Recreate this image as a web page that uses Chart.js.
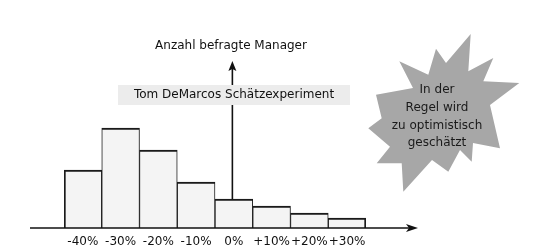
<!DOCTYPE html>
<html><head><meta charset="utf-8">
<script src="https://cdn.jsdelivr.net/npm/chart.js@4"></script>
<style>html,body{margin:0;padding:0;background:#fff;}canvas{display:block;}</style>
</head><body>
<canvas id="c" width="540" height="252"></canvas>
<script>
const categories = ['-40%','-30%','-20%','-10%','0%','+10%','+20%','+30%'];
const managers = [58, 100, 78, 46, 29, 22, 15, 10];
const yAxisTitle = 'Anzahl befragte Manager';
const experimentLabel = 'Tom DeMarcos Schätzexperiment';
const starLines = ['In der','Regel wird','zu optimistisch','geschätzt'];
const FONT = '"DejaVu Sans", Verdana, sans-serif';

const deco = {
  id: 'deco',
  afterDraw(chart) {
    const ctx = chart.ctx;
    const xs = chart.scales.x, ys = chart.scales.y;
    const base = ys.getPixelForValue(0);
    ctx.save();
    // x axis with arrow
    ctx.strokeStyle = '#111'; ctx.fillStyle = '#111';
    ctx.lineWidth = 1.6;
    ctx.beginPath(); ctx.moveTo(30, base); ctx.lineTo(412, base); ctx.stroke();
    ctx.beginPath(); ctx.moveTo(418, base); ctx.lineTo(406, base - 4); ctx.lineTo(409, base); ctx.lineTo(406, base + 4); ctx.closePath(); ctx.fill();
    // vertical line & arrow
    const vx = xs.getPixelForValue(4) - 1.5;
    const topBar = ys.getPixelForValue(managers[4]);
    ctx.lineWidth = 1.6;
    ctx.beginPath(); ctx.moveTo(vx, 105); ctx.lineTo(vx, topBar); ctx.stroke();
    ctx.beginPath(); ctx.moveTo(vx, 85); ctx.lineTo(vx, 68); ctx.stroke();
    ctx.beginPath(); ctx.moveTo(vx, 61); ctx.lineTo(vx - 4, 71); ctx.lineTo(vx, 69); ctx.lineTo(vx + 4, 71); ctx.closePath(); ctx.fill();
    // label box
    ctx.fillStyle = '#ececec';
    ctx.fillRect(118, 85, 232, 20);
    ctx.fillStyle = '#111';
    ctx.font = '12px ' + FONT;
    ctx.textAlign = 'center'; ctx.textBaseline = 'middle';
    ctx.fillText(experimentLabel, 234, 95);
    ctx.fillText(yAxisTitle, 231, 46);
    // star
    const pts = [[470.7,34],[468.3,71.3],[493.3,58],[483.3,81.3],[519.3,83],[490,105],[500,148.3],[473,143],[471.7,161.7],[460,150],[448.3,171.7],[432,160],[403.3,191.7],[401.7,163.3],[376.7,163.3],[390,146.7],[368.3,128.3],[381.7,118.3],[376,94.7],[413,88],[399.3,61.3],[428.3,74.7],[436,48.7],[446,63]];
    ctx.fillStyle = '#a7a7a7';
    ctx.beginPath();
    pts.forEach((p,i)=> i ? ctx.lineTo(p[0],p[1]) : ctx.moveTo(p[0],p[1]));
    ctx.closePath(); ctx.fill();
    ctx.fillStyle = '#1a1a1a';
    starLines.forEach((t,i)=> ctx.fillText(t, 437, 90 + i*17.7));
    ctx.restore();
  }
};

new Chart(document.getElementById('c'), {
  type: 'bar',
  data: {
    labels: categories,
    datasets: [{
      data: managers,
      backgroundColor: '#f4f4f4',
      borderColor: '#1a1a1a',
      borderSkipped: false,
      borderWidth: (c) => ({top: 2, bottom: 0, left: c.dataIndex === 0 ? 2 : 1, right: c.dataIndex === managers.length - 1 ? 2 : 1}),
      categoryPercentage: 1,
      barPercentage: 1
    }]
  },
  options: {
    responsive: false,
    animation: false,
    devicePixelRatio: 1,
    layout: { padding: { top: 28, left: 64, right: 174, bottom: 0 } },
    plugins: { legend: { display: false }, tooltip: { enabled: false } },
    scales: {
      x: {
        grid: { display: false, drawTicks: false },
        border: { display: false },
        ticks: { color: '#111', font: { family: FONT, size: 12 }, padding: 7, maxRotation: 0, autoSkip: false },
        afterFit(s) { s.height = 24; }
      },
      y: { display: false, min: 0, max: 200 }
    }
  },
  plugins: [deco]
});
</script>
</body></html>
